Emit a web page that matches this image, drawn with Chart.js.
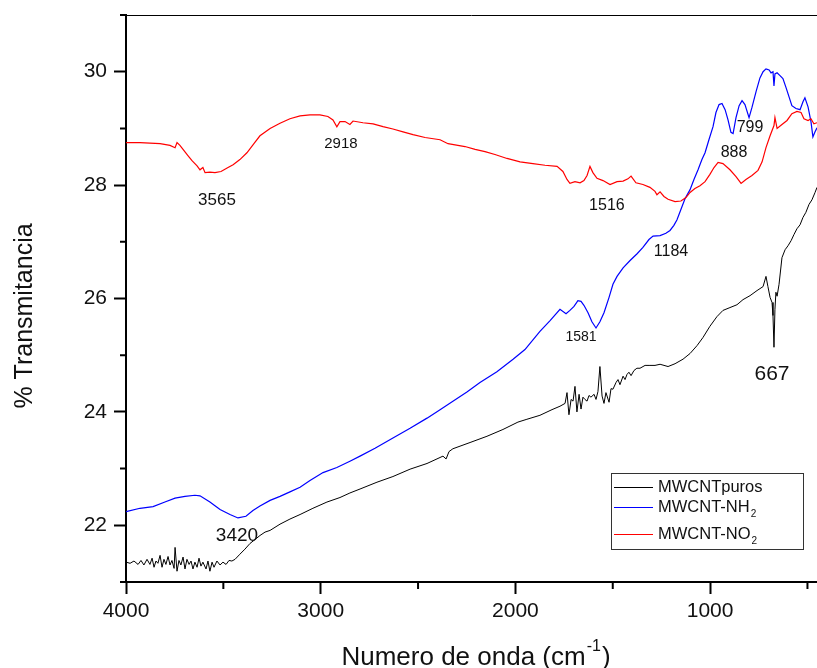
<!DOCTYPE html>
<html>
<head>
<meta charset="utf-8">
<script src="https://cdn.jsdelivr.net/npm/chart.js@4.4.1/dist/chart.umd.min.js"></script>
<style>
html, body { margin: 0; padding: 0; background: #fff; }
</style>
</head>
<body>
<canvas id="myChart" width="817" height="668"></canvas>
<script>
// tick labels
const wnTicks = [4000, 3000, 2000, 1000];
const tTicks = [22, 24, 26, 28, 30];

// MWCNTpuros (black)
const puroWn = [4000, 3979, 3959, 3938, 3923, 3908, 3892, 3877, 3866, 3856, 3846, 3836, 3825, 3815, 3805, 3795, 3784, 3774, 3764, 3753,
  3748, 3738, 3728, 3718, 3707, 3697, 3687, 3676, 3666, 3656, 3646, 3635, 3625, 3615, 3605, 3589, 3579, 3569, 3558, 3548,
  3533, 3517, 3502, 3486, 3471, 3456, 3440, 3415, 3389, 3363, 3337, 3312, 3286, 3260, 3209, 3158, 3106, 3040, 2968, 2901,
  2850, 2798, 2711, 2629, 2541, 2454, 2372, 2356, 2341, 2321, 2233, 2146, 2064, 1987, 1941, 1874, 1812, 1771, 1745, 1735,
  1725, 1714, 1704, 1694, 1684, 1673, 1663, 1653, 1643, 1632, 1622, 1612, 1596, 1586, 1576, 1566, 1555, 1545, 1535, 1519,
  1509, 1499, 1483, 1473, 1463, 1447, 1437, 1427, 1417, 1406, 1391, 1376, 1360, 1334, 1309, 1283, 1257, 1216, 1180, 1139,
  1103, 1067, 1037, 1001, 965, 934, 898, 862, 831, 795, 759, 728, 713, 703, 692, 682, 677, 672, 667, 662,
  656, 646, 631, 615, 600, 584, 569, 554, 538, 523, 508, 492, 477, 461, 451];
const puroT = [21.35, 21.33, 21.37, 21.31, 21.38, 21.30, 21.40, 21.31, 21.42, 21.26, 21.37, 21.33, 21.47, 21.26, 21.40, 21.31, 21.45, 21.30, 21.38, 21.24,
  21.61, 21.19, 21.38, 21.30, 21.44, 21.23, 21.40, 21.31, 21.37, 21.23, 21.35, 21.26, 21.42, 21.28, 21.35, 21.23, 21.37, 21.19, 21.35, 21.26,
  21.37, 21.30, 21.35, 21.31, 21.38, 21.37, 21.40, 21.49, 21.58, 21.68, 21.75, 21.82, 21.88, 21.91, 22.02, 22.11, 22.19, 22.30, 22.41, 22.49,
  22.57, 22.64, 22.76, 22.86, 22.99, 23.09, 23.22, 23.17, 23.30, 23.35, 23.46, 23.57, 23.69, 23.82, 23.87, 23.94, 24.04, 24.10, 24.15, 24.34,
  23.95, 24.22, 24.19, 24.45, 24.00, 24.31, 24.05, 24.26, 24.22, 24.19, 24.29, 24.26, 24.31, 24.22, 24.36, 24.80, 24.28, 24.15, 24.34, 24.17,
  24.41, 24.40, 24.52, 24.57, 24.48, 24.63, 24.57, 24.66, 24.70, 24.64, 24.73, 24.77, 24.77, 24.82, 24.82, 24.82, 24.84, 24.80, 24.85, 24.93,
  25.03, 25.17, 25.31, 25.51, 25.68, 25.79, 25.84, 25.89, 25.98, 26.05, 26.14, 26.21, 26.39, 26.21, 26.02, 25.93, 25.70, 25.14, 25.81, 26.11,
  26.04, 26.25, 26.72, 26.86, 26.93, 27.02, 27.13, 27.23, 27.30, 27.43, 27.52, 27.66, 27.74, 27.87, 27.96];

// MWCNT-NH2 (blue)
const nh2Wn = [4000, 3928, 3861, 3800, 3748, 3697, 3646, 3620, 3569, 3517, 3466, 3425, 3384, 3348, 3312, 3260, 3209, 3158, 3106, 3055,
  2988, 2917, 2850, 2798, 2721, 2629, 2541, 2454, 2387, 2321, 2249, 2182, 2095, 2012, 1951, 1874, 1822, 1771, 1740, 1720,
  1699, 1679, 1663, 1648, 1627, 1607, 1586, 1566, 1545, 1519, 1499, 1478, 1447, 1411, 1375, 1345, 1314, 1293, 1257, 1227,
  1206, 1186, 1170, 1150, 1129, 1103, 1083, 1062, 1042, 1026, 1006, 985, 970, 954, 939, 923, 908, 893, 882, 867,
  851, 836, 821, 800, 785, 764, 744, 728, 713, 697, 687, 677, 672, 667, 656, 641, 626, 610, 595, 580,
  559, 538, 523, 513, 497, 482, 472, 461, 451];
const nh2T = [22.24, 22.30, 22.33, 22.41, 22.48, 22.51, 22.53, 22.52, 22.41, 22.28, 22.19, 22.13, 22.16, 22.26, 22.34, 22.44, 22.51, 22.59, 22.67, 22.79,
  22.93, 23.02, 23.13, 23.22, 23.36, 23.54, 23.71, 23.89, 24.04, 24.19, 24.35, 24.52, 24.71, 24.93, 25.10, 25.42, 25.61, 25.81, 25.73, 25.79,
  25.86, 25.96, 25.95, 25.88, 25.75, 25.59, 25.48, 25.59, 25.75, 26.02, 26.25, 26.39, 26.54, 26.67, 26.79, 26.90, 27.04, 27.10, 27.11, 27.15,
  27.20, 27.29, 27.39, 27.57, 27.76, 27.92, 28.10, 28.27, 28.45, 28.57, 28.80, 29.03, 29.28, 29.42, 29.44, 29.33, 29.15, 28.93, 28.91, 29.19,
  29.40, 29.49, 29.42, 29.19, 29.37, 29.65, 29.89, 30.00, 30.05, 30.03, 29.98, 30.00, 29.75, 29.96, 29.98, 29.93, 29.88, 29.72, 29.56, 29.40,
  29.35, 29.33, 29.47, 29.54, 29.38, 29.12, 28.85, 28.94, 29.01];

// MWCNT-NO2 (red)
const no2Wn = [4000, 3928, 3877, 3825, 3774, 3748, 3738, 3723, 3707, 3682, 3661, 3635, 3620, 3605, 3594, 3569, 3543, 3512, 3476, 3450,
  3415, 3379, 3343, 3312, 3260, 3209, 3158, 3106, 3055, 3004, 2963, 2937, 2917, 2901, 2875, 2850, 2834, 2783, 2731, 2680,
  2629, 2577, 2526, 2464, 2387, 2346, 2310, 2259, 2207, 2156, 2105, 2043, 1976, 1910, 1848, 1786, 1756, 1735, 1720, 1694,
  1668, 1648, 1632, 1617, 1602, 1581, 1550, 1514, 1478, 1447, 1422, 1406, 1381, 1345, 1309, 1283, 1273, 1257, 1237, 1216,
  1180, 1150, 1124, 1103, 1078, 1052, 1026, 1001, 980, 959, 934, 898, 867, 841, 816, 785, 754, 733, 713, 692,
  672, 667, 656, 631, 605, 580, 554, 533, 518, 497, 482, 467, 451];
const no2T = [28.75, 28.75, 28.74, 28.73, 28.70, 28.66, 28.75, 28.70, 28.63, 28.52, 28.43, 28.34, 28.27, 28.31, 28.22, 28.23, 28.22, 28.24, 28.31, 28.36,
  28.45, 28.57, 28.73, 28.87, 29.00, 29.09, 29.17, 29.22, 29.24, 29.24, 29.21, 29.15, 29.03, 29.12, 29.12, 29.07, 29.13, 29.10, 29.08, 29.03,
  28.99, 28.94, 28.89, 28.84, 28.80, 28.73, 28.71, 28.68, 28.63, 28.59, 28.54, 28.47, 28.41, 28.38, 28.35, 28.33, 28.24, 28.10, 28.03, 28.06,
  28.04, 28.08, 28.17, 28.33, 28.22, 28.12, 28.08, 28.01, 28.06, 28.07, 28.11, 28.16, 28.04, 28.01, 27.96, 27.89, 27.83, 27.88, 27.80, 27.75,
  27.71, 27.72, 27.78, 27.87, 27.94, 27.99, 28.06, 28.19, 28.31, 28.40, 28.38, 28.27, 28.15, 28.03, 28.10, 28.17, 28.26, 28.41, 28.66, 28.87,
  29.05, 29.19, 29.00, 29.07, 29.14, 29.26, 29.30, 29.28, 29.17, 29.14, 29.17, 29.08, 29.10];

// peak annotations (text, wavenumber, %T, font size)
const peakText = ['3565', '2918', '1516', '1581', '1184', '888', '799', '667', '3420'];
const peakWn = [3533, 2896, 1530, 1663, 1201, 877, 795, 682, 3430];
const peakT = [27.74, 28.73, 27.64, 25.31, 26.83, 28.57, 29.01, 24.66, 21.82];
const peakSize = [17, 15, 16, 14, 16, 16, 16, 21, 19];

const fontFam = '"Liberation Sans", Arial, sans-serif';
const toPoints = (xs, ys) => xs.map((x, i) => ({x: x, y: ys[i]}));

function drawSub(ctx, x, y, main, sub, size) {
  ctx.font = size + 'px ' + fontFam;
  ctx.textAlign = 'left';
  ctx.textBaseline = 'middle';
  ctx.fillText(main, x, y);
  const w = ctx.measureText(main).width;
  if (sub) {
    ctx.font = Math.round(size * 0.6) + 'px ' + fontFam;
    ctx.fillText(sub, x + w + 1, y + size * 0.45);
  }
}

const decor = {
  id: 'decor',
  afterDraw(chart) {
    const ctx = chart.ctx;
    const a = chart.chartArea;
    const xs = chart.scales.x, ys = chart.scales.y;
    ctx.save();
    ctx.strokeStyle = '#000';
    ctx.fillStyle = '#111';

    // top frame line
    ctx.lineWidth = 1;
    ctx.beginPath();
    ctx.moveTo(a.left, a.top + 0.5);
    ctx.lineTo(a.right, a.top + 0.5);
    ctx.stroke();

    // minor ticks
    ctx.lineWidth = 2;
    ctx.beginPath();
    [3500, 2500, 1500, 500].forEach(v => {
      const px = xs.getPixelForValue(v);
      ctx.moveTo(px, a.bottom);
      ctx.lineTo(px, a.bottom + 7);
    });
    [21, 23, 25, 27, 29, 31].forEach(v => {
      const py = ys.getPixelForValue(v);
      ctx.moveTo(a.left, py);
      ctx.lineTo(a.left - 6, py);
    });
    ctx.stroke();

    // peak labels
    ctx.textAlign = 'center';
    ctx.textBaseline = 'middle';
    peakText.forEach((t, i) => {
      ctx.font = peakSize[i] + 'px ' + fontFam;
      ctx.fillText(t, xs.getPixelForValue(peakWn[i]), ys.getPixelForValue(peakT[i]));
    });

    // legend
    const lx = 611, ly = 473;
    ctx.lineWidth = 1;
    ctx.strokeStyle = '#333';
    ctx.strokeRect(lx + 0.5, ly + 0.5, 192, 76);
    const rows = [
      {y: 487, color: '#000', main: 'MWCNTpuros', sub: ''},
      {y: 507, color: '#0000ff', main: 'MWCNT-NH', sub: '2'},
      {y: 534, color: '#ff0000', main: 'MWCNT-NO', sub: '2'}
    ];
    rows.forEach(r => {
      ctx.strokeStyle = r.color;
      ctx.beginPath();
      ctx.moveTo(614, r.y + 0.5);
      ctx.lineTo(653, r.y + 0.5);
      ctx.stroke();
      ctx.fillStyle = '#111';
      drawSub(ctx, 658, r.y, r.main, r.sub, 16.5);
    });

    // axis titles
    ctx.fillStyle = '#111';
    ctx.font = '26px ' + fontFam;
    ctx.textBaseline = 'alphabetic';
    ctx.textAlign = 'left';
    const t1 = 'Numero de onda (cm';
    const w1 = ctx.measureText(t1).width;
    ctx.font = '16px ' + fontFam;
    const w2 = ctx.measureText('-1').width;
    ctx.font = '26px ' + fontFam;
    const w3 = ctx.measureText(')').width;
    let sx = 476 - (w1 + w2 + w3 + 2) / 2;
    ctx.fillText(t1, sx, 665);
    ctx.font = '16px ' + fontFam;
    ctx.fillText('-1', sx + w1 + 1, 651);
    ctx.font = '26px ' + fontFam;
    ctx.fillText(')', sx + w1 + w2 + 2, 665);

    ctx.font = '25px ' + fontFam;
    ctx.translate(32, 316);
    ctx.rotate(-Math.PI / 2);
    ctx.textAlign = 'center';
    ctx.fillText('% Transmitancia', 0, 0);
    ctx.restore();
  }
};

const ctx = document.getElementById('myChart').getContext('2d');
const myChart = new Chart(ctx, {
  type: 'line',
  data: {
    datasets: [
      {label: 'MWCNTpuros', data: toPoints(puroWn, puroT), borderColor: '#000000', borderWidth: 1, pointRadius: 0, order: 3},
      {label: 'MWCNT-NH2', data: toPoints(nh2Wn, nh2T), borderColor: '#0000ff', borderWidth: 1.2, pointRadius: 0, order: 2},
      {label: 'MWCNT-NO2', data: toPoints(no2Wn, no2T), borderColor: '#ff0000', borderWidth: 1.2, pointRadius: 0, order: 1}
    ]
  },
  options: {
    responsive: false,
    animation: false,
    devicePixelRatio: 1,
    layout: {autoPadding: false, padding: {top: 15, right: 0, left: 0, bottom: 0}},
    plugins: {legend: {display: false}, tooltip: {enabled: false}},
    elements: {line: {tension: 0}},
    scales: {
      x: {
        type: 'linear',
        reverse: true,
        min: 451,
        max: 4000,
        afterBuildTicks: s => { s.ticks = wnTicks.map(v => ({value: v})); },
        afterFit: s => { s.height = 86; s.paddingLeft = 0; s.paddingRight = 0; },
        grid: {drawOnChartArea: false, tickLength: 12, tickWidth: 2, tickColor: '#000'},
        border: {color: '#000', width: 2},
        ticks: {color: '#111', font: {family: fontFam, size: 21}, padding: 5, maxRotation: 0, callback: v => String(v)}
      },
      y: {
        min: 21,
        max: 31,
        afterBuildTicks: s => { s.ticks = tTicks.map(v => ({value: v})); },
        afterFit: s => { s.width = 126; s.paddingTop = 0; s.paddingBottom = 0; },
        grid: {drawOnChartArea: false, tickLength: 12, tickWidth: 2, tickColor: '#000'},
        border: {color: '#000', width: 2},
        ticks: {color: '#111', font: {family: fontFam, size: 21}, padding: 7, callback: v => String(v)}
      }
    }
  },
  plugins: [decor]
});
</script>
</body>
</html>
